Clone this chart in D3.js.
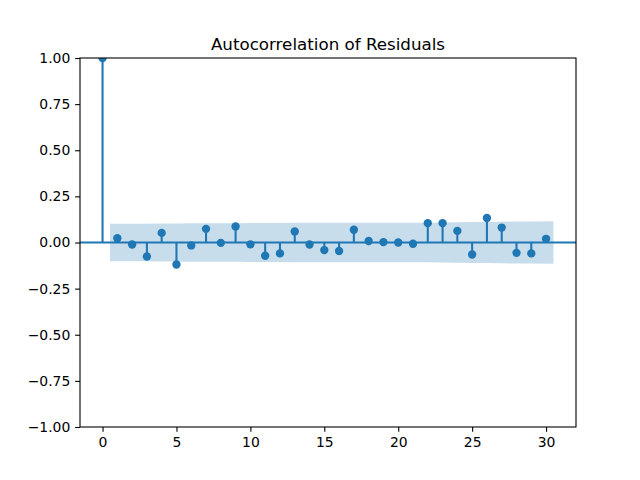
<!DOCTYPE html>
<html><head><meta charset="utf-8">
<script src="https://cdn.jsdelivr.net/npm/d3@7"></script>
<style>body{margin:0;background:#fff}svg{display:block}text{font-family:"DejaVu Sans",sans-serif}</style>
</head><body><div id="chart"></div>
<script>
const lags = d3.range(0, 31);
const acfValues = [1.0, 0.023, -0.011, -0.076, 0.052, -0.119, -0.016, 0.074, -0.002, 0.087, -0.010,
  -0.072, -0.059, 0.060, -0.011, -0.041, -0.046, 0.069, 0.008, 0.002, 0.000,
  -0.007, 0.105, 0.105, 0.063, -0.065, 0.133, 0.081, -0.056, -0.059, 0.020];
// confidence band half-widths for lags 1..30
const bandLags = [0.5, 2, 3, 4, 5, 6, 7, 8, 9, 10, 11, 12, 13, 14, 15, 16, 17, 18, 19, 20,
  21, 22, 23, 24, 25, 26, 27, 28, 29, 30.5];
const bandHalf = [0.102, 0.102, 0.102, 0.1026, 0.1029, 0.1043, 0.1044, 0.1049, 0.1049, 0.1056,
  0.1056, 0.1061, 0.1065, 0.1068, 0.1068, 0.1070, 0.1072, 0.1077, 0.1077, 0.1077,
  0.1077, 0.1077, 0.1090, 0.1102, 0.1106, 0.1111, 0.1130, 0.1137, 0.1142, 0.1150];
const xTicks = [0, 5, 10, 15, 20, 25, 30];
const yTicks = [-1, -0.75, -0.5, -0.25, 0, 0.25, 0.5, 0.75, 1];
const title = "Autocorrelation of Residuals";

const W = 640, H = 480;
const m = {left: 80, right: 64, top: 58, bottom: 53};
const color = "#1f77b4";
const svg = d3.select("#chart").append("svg").attr("width", W).attr("height", H);
const x = d3.scaleLinear().domain([-1.525, 32.025]).range([m.left, W - m.right]);
const y = d3.scaleLinear().domain([-1, 1]).range([H - m.bottom, m.top]);

svg.append("defs").append("clipPath").attr("id", "plotclip").append("rect")
  .attr("x", m.left).attr("y", m.top)
  .attr("width", W - m.left - m.right).attr("height", H - m.top - m.bottom);
const plot = svg.append("g").attr("clip-path", "url(#plotclip)");

// band
const band = bandLags.map((l, i) => ({l, h: bandHalf[i]}));
plot.append("path").datum(band)
  .attr("d", d3.area().x(d => x(d.l)).y0(d => y(-d.h)).y1(d => y(d.h)))
  .attr("fill", color).attr("fill-opacity", 0.25);

// zero line
plot.append("line").attr("x1", m.left).attr("x2", W - m.right)
  .attr("y1", y(0)).attr("y2", y(0)).attr("stroke", color).attr("stroke-width", 2.08);

// stems
plot.selectAll(".stem").data(lags).enter().append("line")
  .attr("x1", d => x(d)).attr("x2", d => x(d))
  .attr("y1", y(0)).attr("y2", d => y(acfValues[d]))
  .attr("stroke", color).attr("stroke-width", 2.08);
plot.selectAll(".dot").data(lags).enter().append("circle")
  .attr("cx", d => x(d)).attr("cy", d => y(acfValues[d])).attr("r", 4.17)
  .attr("fill", color);

// axes
const fmt = d => (d < 0 ? "\u2212" : "") + d3.format(".2f")(Math.abs(d));
const xa = svg.append("g").attr("transform", `translate(0,${H - m.bottom})`)
  .call(d3.axisBottom(x).tickValues(xTicks).tickSize(4.86).tickPadding(4.86));
const ya = svg.append("g").attr("transform", `translate(${m.left},0)`)
  .call(d3.axisLeft(y).tickValues(yTicks).tickFormat(fmt).tickSize(4.86).tickPadding(4.86));
[xa, ya].forEach(g => {
  g.select(".domain").remove();
  g.selectAll("line").attr("stroke", "#000").attr("stroke-width", 1.1);
  g.selectAll("text").attr("font-size", "13.9px").attr("fill", "#000").attr("font-family", "DejaVu Sans");
});
// frame
svg.append("rect").attr("x", m.left).attr("y", m.top)
  .attr("width", W - m.left - m.right).attr("height", H - m.top - m.bottom)
  .attr("fill", "none").attr("stroke", "#000").attr("stroke-width", 1.1);

svg.append("text").attr("x", (m.left + W - m.right) / 2).attr("y", 50)
  .attr("text-anchor", "middle").attr("font-size", "16.7px").text(title);
</script></body></html>
